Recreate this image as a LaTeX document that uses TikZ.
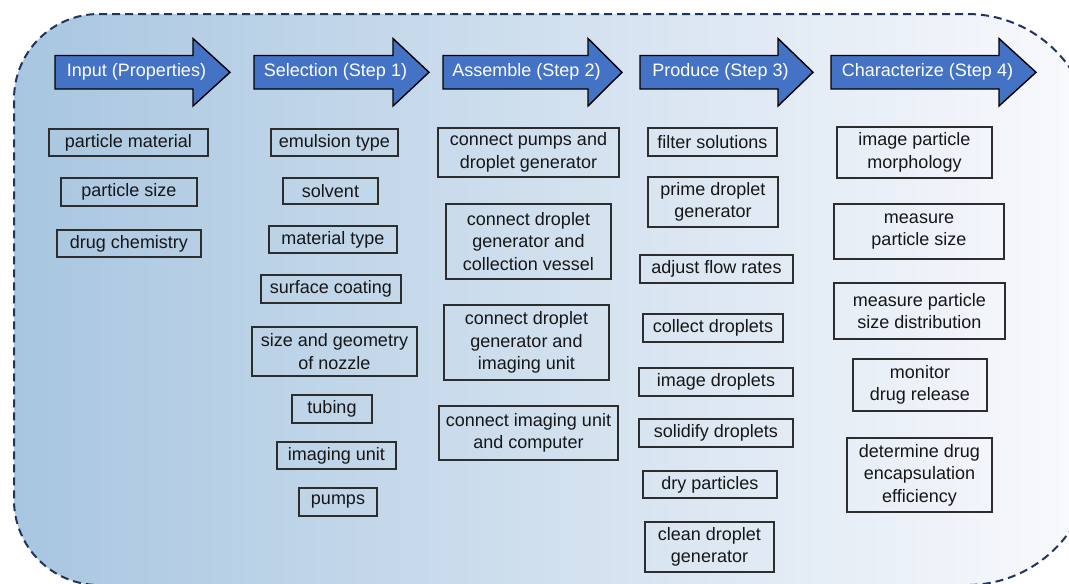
\documentclass[tikz,border=0pt]{standalone}
\usepackage{fontspec}
\setmainfont{Liberation Sans}
\definecolor{bgleft}{RGB}{168,198,224}
\definecolor{bgmid}{RGB}{198,207,229}
\definecolor{bgright}{RGB}{250,250,253}
\definecolor{dashcol}{RGB}{32,52,96}
\definecolor{arrowblue}{RGB}{68,114,196}
\definecolor{boxline}{RGB}{45,45,45}
\definecolor{textcol}{RGB}{22,22,22}
\tikzset{
  itembox/.style={draw=boxline, line width=1.4pt, align=center, inner sep=0pt,
    text=textcol, font=\fontsize{18}{22.5}\selectfont},
  stepar/.style={fill=arrowblue, draw=black, line width=1.4pt, line join=miter},
  steptext/.style={text=white, font=\fontsize{18}{22.5}\selectfont, inner sep=0pt},
  framefill/.style={left color=bgleft, middle color=bgmid, right color=bgright},
  frameline/.style={draw=dashcol, line width=2pt, dash pattern=on 8pt off 5pt}
}
\newcommand\steparrow[5]{%
  \draw[stepar] (#1,55.5) -- (#2,55.5) -- (#2,38.5) -- (#3,72.3) -- (#2,106) -- (#2,89) -- (#1,89) -- cycle;
  \node[steptext] (#4) at ({(#1+#3)/2-6},72.3) {#5};
}
\newcommand\itm[6]{%
  \node[itembox, minimum width=#4pt, minimum height=#5pt] (#1) at (#2,#3) {#6};
}
\newcommand\framepath{(500,14) [rounded corners=125] -| (1092,300) |- (500,585)
  [rounded corners=85] -| (14,300) |- (500,14)}
\begin{document}
\begin{tikzpicture}[x=1pt,y=-1pt]
\useasboundingbox (0,0) rectangle (1069,584);
\clip (0,0) rectangle (1069,584);
\path[framefill] \framepath;
\draw[frameline] \framepath;

\steparrow{55}{193}{230}{a1}{Input (Properties)}
\steparrow{254}{393}{429}{a2}{Selection (Step 1)}
\steparrow{443}{588}{622}{a3}{Assemble (Step 2)}
\steparrow{640}{778}{813}{a4}{Produce (Step 3)}
\steparrow{831}{999}{1036}{a5}{Characterize (Step 4)}

% column 1
\itm{c1a}{128.5}{142.5}{159}{27}{particle material}
\itm{c1b}{129}{192}{136}{28}{particle size}
\itm{c1c}{129}{243.5}{144}{27}{drug chemistry}

% column 2
\itm{c2a}{334.5}{142.5}{127}{27}{emulsion type}
\itm{c2b}{330.5}{191}{95}{26}{solvent}
\itm{c2c}{333}{239.5}{128}{27}{material type}
\itm{c2d}{331}{289}{140}{28}{surface coating}
\itm{c2e}{334.5}{351.5}{165}{49}{size and geometry\\of nozzle}
\itm{c2f}{332}{409}{80}{28}{tubing}
\itm{c2g}{336.5}{455.5}{119}{27}{imaging unit}
\itm{c2h}{338}{502}{78}{28}{pumps}

% column 3
\itm{c3a}{528.5}{152.5}{181}{49}{connect pumps and\\droplet generator}
\itm{c3b}{528.5}{241.5}{165}{75}{connect droplet\\generator and\\collection vessel}
\itm{c3c}{526.5}{342.5}{165}{75}{connect droplet\\generator and\\imaging unit}
\itm{c3d}{528.5}{433}{179}{54}{connect imaging unit\\and computer}

% column 4
\itm{c4a}{712.5}{142}{129}{28}{filter solutions}
\itm{c4b}{713}{202}{130}{50}{prime droplet\\generator}
\itm{c4c}{716.5}{269}{153}{28}{adjust flow rates}
\itm{c4d}{713}{328}{140}{28}{collect droplets}
\itm{c4e}{716}{382}{154}{28}{image droplets}
\itm{c4f}{716}{433}{154}{28}{solidify droplets}
\itm{c4g}{710}{484.5}{134}{27}{dry particles}
\itm{c4h}{709.5}{547}{129}{50}{clean droplet\\generator}

% column 5
\itm{c5a}{914.5}{152.5}{155}{51}{image particle\\morphology}
\itm{c5b}{919}{231.5}{170}{55}{measure\\particle size}
\itm{c5c}{919.5}{311}{171}{56}{measure particle\\size distribution}
\itm{c5d}{920}{385}{134}{52}{monitor\\drug release}
\itm{c5e}{919.5}{475}{145}{74}{determine drug\\encapsulation\\efficiency}
\end{tikzpicture}
\end{document}
